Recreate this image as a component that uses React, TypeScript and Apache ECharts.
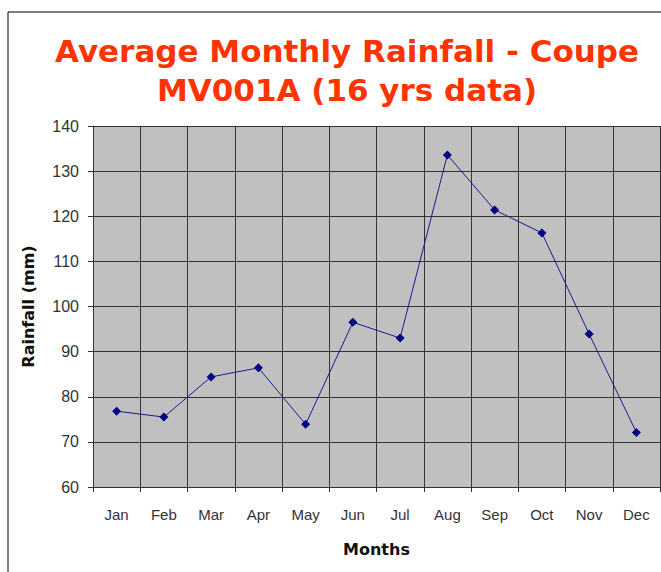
import React, { useEffect, useRef } from "react";
import * as echarts from "echarts";

const months = ["Jan", "Feb", "Mar", "Apr", "May", "Jun", "Jul", "Aug", "Sep", "Oct", "Nov", "Dec"];
const rainfall = [76.8, 75.5, 84.4, 86.4, 73.9, 96.5, 93.0, 133.6, 121.4, 116.3, 93.9, 72.1];
const titleText = "Average Monthly Rainfall - Coupe\nMV001A (16 yrs data)";

export default function App() {
  const ref = useRef<HTMLDivElement>(null);
  useEffect(() => {
    if (!ref.current) return;
    const chart = echarts.init(ref.current, null, { renderer: "svg" });
    chart.setOption({
      animation: false,
      backgroundColor: "#ffffff",
      title: {
        text: titleText,
        left: 342,
        top: 26,
        textAlign: "center",
        textStyle: {
          fontFamily: "DejaVu Sans",
          fontWeight: "bold",
          fontSize: 31,
          lineHeight: 39,
          color: "#ff3300",
        },
      },
      graphic: [
        {
          type: "rect",
          shape: { x: 8, y: 12, width: 700, height: 620 },
          style: { fill: "none", stroke: "#000", lineWidth: 1 },
          silent: true,
        },
      ],
      grid: { left: 93, right: 1, top: 126, bottom: 85, show: true, backgroundColor: "#c0c0c0", borderWidth: 0 },
      xAxis: {
        type: "category",
        data: months,
        boundaryGap: true,
        name: "Months",
        nameLocation: "middle",
        nameGap: 54,
        nameTextStyle: { fontFamily: "DejaVu Sans", fontWeight: "bold", fontSize: 16, color: "#111" },
        axisLine: { show: true, lineStyle: { color: "#333", width: 1 } },
        axisTick: { show: true, length: 5, alignWithLabel: false, lineStyle: { color: "#333" } },
        axisLabel: { margin: 20, fontFamily: "Liberation Sans", fontSize: 15, color: "#333", interval: 0 },
        splitLine: { show: true, interval: 0, lineStyle: { color: "#333", width: 1 } },
      },
      yAxis: {
        type: "value",
        min: 60,
        max: 140,
        interval: 10,
        name: "Rainfall (mm)",
        nameLocation: "middle",
        nameGap: 57,
        nameTextStyle: { fontFamily: "DejaVu Sans", fontWeight: "bold", fontSize: 16, color: "#111" },
        axisLine: { show: true, lineStyle: { color: "#333", width: 1 } },
        axisTick: { show: true, length: 5, lineStyle: { color: "#333" } },
        axisLabel: { margin: 14, fontFamily: "Liberation Sans", fontSize: 16, color: "#333" },
        splitLine: { show: true, lineStyle: { color: "#333", width: 1 } },
      },
      series: [
        {
          type: "line",
          data: rainfall,
          symbol: "diamond",
          symbolSize: 9,
          lineStyle: { color: "#1a1a8c", width: 1 },
          itemStyle: { color: "#000080" },
        },
      ],
    });
    return () => chart.dispose();
  }, []);
  return <div ref={ref} style={{ position: "fixed", left: 0, top: 0, width: 661, height: 572 }} />;
}
